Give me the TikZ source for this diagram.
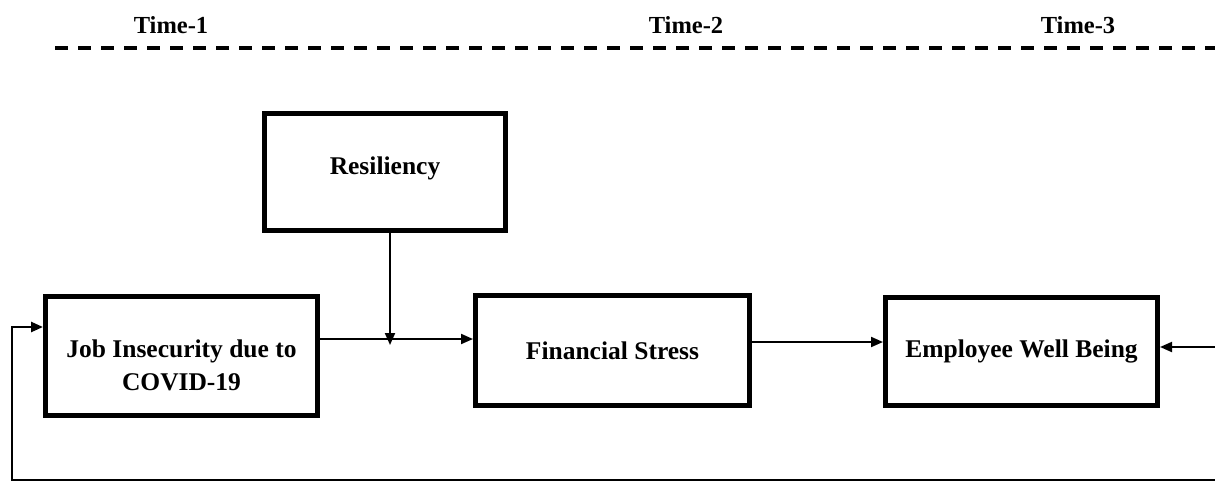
\documentclass[tikz,border=0pt]{standalone}
\usepackage{fontspec}
\setmainfont{Liberation Serif}
\usetikzlibrary{arrows.meta}
\begin{document}
\begin{tikzpicture}[x=1pt,y=-1pt,
  box/.style={draw, line width=5pt, align=center, inner sep=0pt,
    font=\bfseries\fontsize{25.5}{33}\selectfont},
  timelbl/.style={font=\bfseries\fontsize{24.5}{28}\selectfont},
  conn/.style={line width=2pt, -{Triangle[length=12pt,width=10pt]}},
  timeline/.style={line width=3.5pt, dash pattern=on 13pt off 10pt}]
\useasboundingbox (0,0) rectangle (1215,485);
% time labels and dashed rule
\node[timelbl] (t1) at (171,25) {Time-1};
\node[timelbl] (t2) at (686,25) {Time-2};
\node[timelbl] (t3) at (1078,25) {Time-3};
\coordinate (dl) at (55,48);
\coordinate (dr) at (1215,48);
\draw[timeline] (dl) -- (dr);
% boxes
\node[box, minimum width=272pt, minimum height=119pt] (job) at (181.5,356)
  {\raisebox{-1pt}[0pt][0pt]{\begin{tabular}[t]{@{}c@{}}Job Insecurity due to\\COVID-19\end{tabular}}};
\node[box, minimum width=241pt, minimum height=117pt] (res) at (385,172)
  {\raisebox{-2pt}[0pt][0pt]{Resiliency}};
\node[box, minimum width=274pt, minimum height=110pt] (fs) at (612.5,350.5)
  {Financial Stress};
\node[box, minimum width=272pt, minimum height=108pt] (ewb) at (1021.5,351.5)
  {Employee Well Being};
% connectors
\coordinate (m) at (390,339);
\coordinate (n) at (0,342);
\coordinate (r) at (1215,347);
\coordinate (br) at (1215,480);
\coordinate (bl) at (12,480);
\coordinate (fb) at (0,327);
\draw[conn] (job.east |- m) -- (fs.west |- m);
\draw[conn] (res.south -| m) -- ([yshift=-6pt]m);
\draw[conn] (fs.east |- n) -- (ewb.west |- n);
\draw[conn] (r) -- (ewb.east |- r);
\draw[conn, line width=2.5pt] (br) -- (bl) |- (job.west |- fb);
\end{tikzpicture}
\end{document}
